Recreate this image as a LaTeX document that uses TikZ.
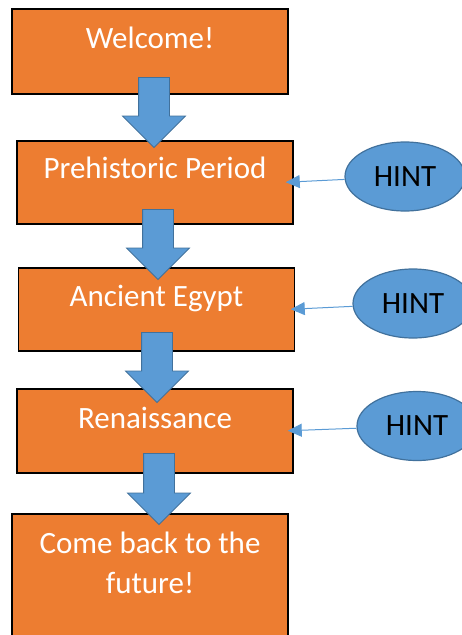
\documentclass[tikz,border=0pt]{standalone}
\usepackage{fontspec}
\setmainfont{Carlito}
\usetikzlibrary{shapes.geometric}
\usetikzlibrary{shapes.arrows}
\usetikzlibrary{arrows.meta}
\definecolor{boxorange}{HTML}{ED7D31}
\definecolor{hintblue}{HTML}{5B9BD5}
\definecolor{hintedge}{HTML}{41719C}
\newcommand{\bigtext}{\fontsize{31}{40}\selectfont}

\begin{document}
\begin{tikzpicture}[x=1pt, y=-1pt,
    stage/.style={draw=black, line width=1.5pt, fill=boxorange, text=white,
      minimum width=276pt, inner sep=0pt, anchor=north, font=\bigtext},
    downarrow/.style={single arrow, draw=hintedge, fill=hintblue, line width=0.8pt,
      rotate=-90, minimum height=70pt, inner xsep=0pt, inner ysep=15pt,
      single arrow head extend=16pt, anchor=tip},
    hint/.style={ellipse, draw=hintedge, line width=1.2pt, fill=hintblue,
      minimum width=120pt, minimum height=69pt, font=\bigtext, text=black},
    hintline/.style={draw=hintblue, line width=1pt, -{Triangle[length=14pt,width=13pt]}}]

    \useasboundingbox (0,0) rectangle (462,635);
    \clip (0,0) rectangle (462,635);

    % the stages
    \node (welcome) [stage, text height=40pt, text depth=45pt] at (150,8) {Welcome!};
    \node (prehist) [stage, text height=38pt, text depth=45pt] at (155,140) {Prehistoric Period};
    \node (egypt) [stage, text height=39pt, text depth=44pt] at (156.5,267) {Ancient Egypt};
    \node (renais) [stage, text height=40pt, text depth=44pt] at (155,388) {Renaissance};
    \node (future) [stage, align=center, text height=80pt, text depth=60pt] at (150,513) {Come back to the\\future!};

    % hints
    \node (hint1) [hint] at (405,176.5) {HINT};
    \node (hint2) [hint] at (413,303.5) {HINT};
    \node (hint3) [hint] at (417,426) {HINT};

    % big arrows
    \node (go1) [downarrow] at (154,148) {};
    \node (go2) [downarrow] at (158,280) {};
    \node (go3) [downarrow] at (157,403) {};
    \node (go4) [downarrow, minimum height=71pt] at (159,525) {};

    \draw [hintline] (hint1) -- ([xshift=-8pt]prehist.east);
    \draw [hintline] (hint2) -- ([xshift=-4.5pt]egypt.east);
    \draw [hintline] (hint3) -- ([xshift=-6pt]renais.east);

\end{tikzpicture}
\end{document}
